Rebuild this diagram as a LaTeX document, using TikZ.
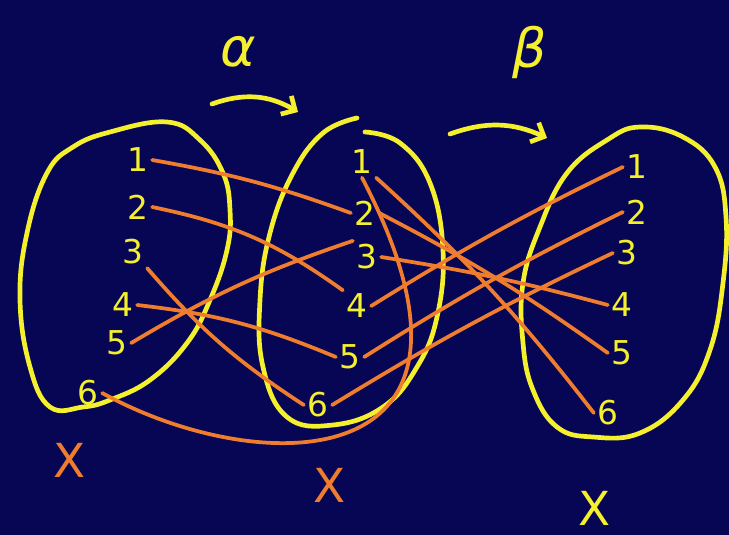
\documentclass[tikz,border=0pt]{standalone}
\usepackage{fontspec}
\setmainfont{DejaVu Sans}
\usetikzlibrary{arrows.meta}
\definecolor{board}{RGB}{6,6,84}
\definecolor{chalkyellow}{RGB}{245,240,45}
\definecolor{chalkorange}{RGB}{240,125,45}

\begin{document}
\begin{tikzpicture}[x=0.03cm, y=-0.03cm,
  num/.style={chalkyellow, font=\fontsize{28}{30}\selectfont, inner sep=3pt},
  map/.style={chalkorange, line width=3.2pt, line cap=round},
  setline/.style={chalkyellow, line width=4pt, line cap=round, line join=round},
  greek/.style={chalkyellow, font=\fontsize{46}{50}\selectfont\itshape},
  setname/.style={font=\fontsize{40}{44}\selectfont}]

% background
\fill[board] (0,0) rectangle (729,535);
\useasboundingbox (0,0) rectangle (729,535);

% left set
\draw[setline] plot[smooth cycle, tension=0.7] coordinates {(73,147) (110,132) (167,122) (200,140) (223,173) (230,210) (227,250) (210,300) (187,343) (150,380) (110,400) (83,407) (50,407) (30,367) (20,300) (27,233) (47,173)};
% middle set
\draw[setline] plot[smooth, tension=0.7] coordinates {(365,132) (400,143) (430,183) (443,250) (437,317) (417,367) (383,407) (333,425) (287,417) (263,367) (260,300) (270,233) (293,173) (323,133) (357,118)};
% right set
\draw[setline] plot[smooth cycle, tension=0.7] coordinates {(607,140) (640,127) (683,137) (715,167) (726,217) (723,283) (710,350) (683,400) (640,433) (593,437) (557,427) (533,390) (523,343) (523,283) (540,227) (567,173)};

% elements
\node[num] (l1) at (138,160) {1};
\node[num] (l2) at (138,207) {2};
\node[num] (l3) at (133,252) {3};
\node[num] (l4) at (123,305) {4};
\node[num] (l5) at (117,343) {5};
\node[num] (l6) at (88,393) {6};

\node[num] (m1) at (362,162) {1};
\node[num] (m2) at (365,213) {2};
\node[num] (m3) at (367,257) {3};
\node[num] (m4) at (357,306) {4};
\node[num] (m5) at (350,357) {5};
\node[num] (m6) at (318,405) {6};

\node[num] (r1) at (637,167) {1};
\node[num] (r2) at (637,212) {2};
\node[num] (r3) at (627,253) {3};
\node[num] (r4) at (622,305) {4};
\node[num] (r5) at (622,353) {5};
\node[num] (r6) at (608,413) {6};

% alpha
\draw[map] (l1.east) to[bend left=5] (m2.west);
\draw[map] (l2.east) to[bend left=12] (m4.north west);
\draw[map] (l3.south east) to[bend right=8] (m6.west);
\draw[map] (l4.east) to[bend left=8] (m5.west);
\draw[map] (l5.east) to[bend left=6] (m3.north west);
\draw[map] (l6.east) .. controls (260,480) and (520,480) .. (m1.south);

% beta
\draw[map] (m1.south east) to[bend left=5] (r6.west);
\draw[map] (m2.east) to[bend left=4] (r5.west);
\draw[map] (m3.east) to[bend left=3] (r4.west);
\draw[map] (m4.east) to[bend left=3] (r1.west);
\draw[map] (m5.east) to[bend left=3] (r2.west);
\draw[map] (m6.east) to[bend left=3] (r3.west);

% maps
\node[greek] (alpha) at (238,52) {α};
\coordinate (a1) at (212,104);
\coordinate (a2) at (298,112);
\draw[setline, -{Straight Barb[length=9pt, width=18pt]}] (a1) to[bend left=25] (a2);

\node[greek] (beta) at (530,52) {β};
\coordinate (b1) at (450,134);
\coordinate (b2) at (547,138);
\draw[setline, -{Straight Barb[length=9pt, width=18pt]}] (b1) to[bend left=22] (b2);

% set names
\node[setname, chalkorange] (xl) at (70,460) {X};
\node[setname, chalkorange] (xm) at (330,485) {X};
\node[setname, chalkyellow] (xr) at (595,508) {X};
\end{tikzpicture}
\end{document}
